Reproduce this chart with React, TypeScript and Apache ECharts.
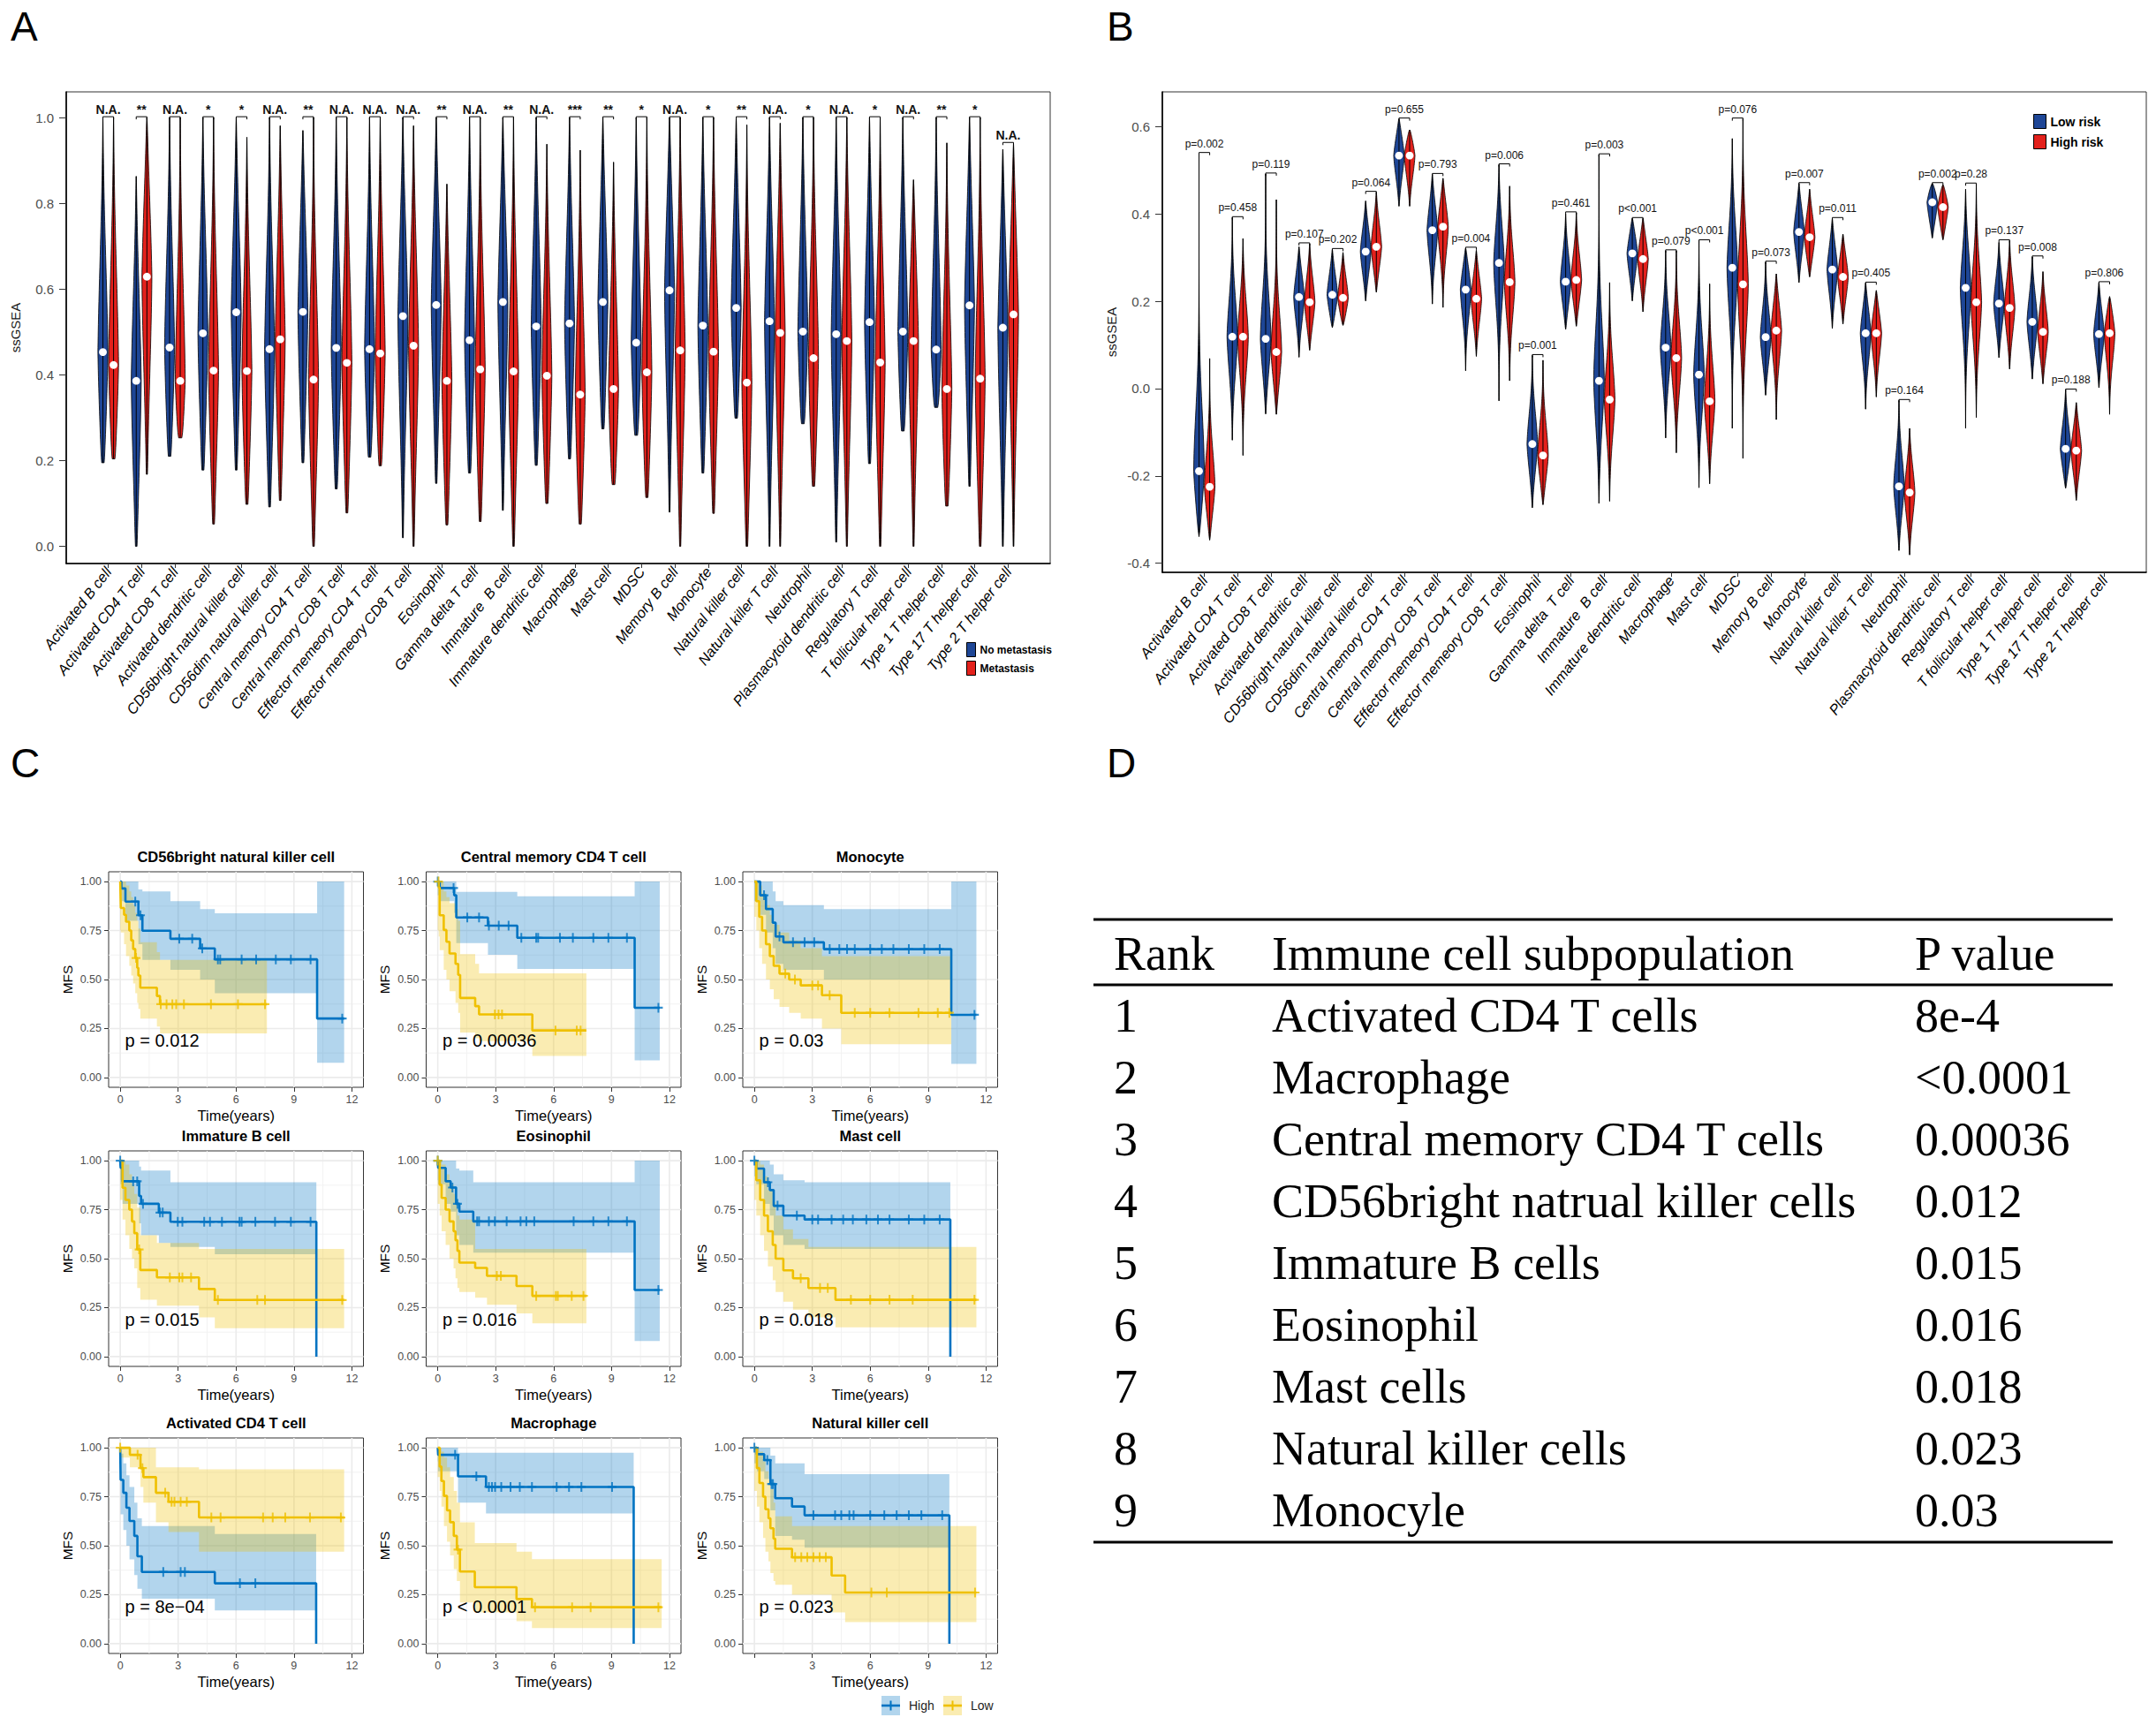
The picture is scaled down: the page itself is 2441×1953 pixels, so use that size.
import React, { useEffect, useRef } from "react";
import * as echarts from "echarts";

// ---------------- fonts / colours ----------------
const NARROW = '"Liberation Sans Narrow", "Liberation Sans", Arial, sans-serif';
const SANS = '"Liberation Sans", Arial, Helvetica, sans-serif';
const SERIF = '"Liberation Serif", "Times New Roman", serif';
const BLUE_V = "#1E4696";
const RED_V = "#E3211C";
const KM_BLUE = "#0073C2";
const KM_YELLOW = "#EFC000";
const KM_BLUE_BAND = "rgba(0,115,194,0.3)";
const KM_YELLOW_BAND = "rgba(239,192,0,0.3)";

// ---------------- Panel A / B data ----------------
const cellNamesA = [
  "Activated B cell", "Activated CD4 T cell", "Activated CD8 T cell", "Activated dendritic cell",
  "CD56bright natural killer cell", "CD56dim natural killer cell", "Central memory CD4 T cell",
  "Central memory CD8 T cell", "Effector memeory CD4 T cell", "Effector memeory CD8 T cell",
  "Eosinophil", "Gamma delta T cell", "Immature  B cell", "Immature dendritic cell", "Macrophage",
  "Mast cell", "MDSC", "Memory B cell", "Monocyte", "Natural killer cell", "Natural killer T cell",
  "Neutrophil", "Plasmacytoid dendritic cell", "Regulatory T cell", "T follicular helper cell",
  "Type 1 T helper cell", "Type 17 T helper cell", "Type 2 T helper cell",
];
const cellNamesB = [
  "Activated B cell", "Activated CD4 T cell", "Activated CD8 T cell", "Activated dendritic cell",
  "CD56bright natural killer cell", "CD56dim natural killer cell", "Central memory CD4 T cell",
  "Central memory CD8 T cell", "Effector memeory CD4 T cell", "Effector memeory CD8 T cell",
  "Eosinophil", "Gamma delta  T cell", "Immature  B cell", "Immature dendritic cell", "Macrophage",
  "Mast cell", "MDSC", "Memory B cell", "Monocyte", "Natural killer cell", "Natural killer T cell",
  "Neutrophil", "Plasmacytoid dendritic cell", "Regulatory T cell", "T follicular helper cell",
  "Type 1 T helper cell", "Type 17 T helper cell", "Type 2 T helper cell",
];
const sigA = ["N.A.", "**", "N.A.", "*", "*", "N.A.", "**", "N.A.", "N.A.", "N.A.", "**", "N.A.", "**", "N.A.",
  "***", "**", "*", "N.A.", "*", "**", "N.A.", "*", "N.A.", "*", "N.A.", "**", "*", "N.A."];
const aNoMetMin = [0.195, 0.0, 0.21, 0.178, 0.178, 0.092, 0.195, 0.134, 0.208, 0.02, 0.147, 0.171, 0.084, 0.189,
  0.204, 0.274, 0.259, 0.08, 0.171, 0.299, 0.0, 0.286, 0.01, 0.193, 0.269, 0.324, 0.14, 0.0];
const aNoMetMax = [1, 0.863, 1, 1, 1, 1, 0.97, 1, 1, 1, 1, 1, 1, 1, 1, 1, 1, 1, 1, 1, 1, 1, 1, 1, 1, 1, 1, 0.926];
const aNoMetMed = [0.453, 0.386, 0.464, 0.497, 0.546, 0.46, 0.547, 0.463, 0.46, 0.537, 0.563, 0.481, 0.57, 0.513,
  0.52, 0.57, 0.475, 0.597, 0.515, 0.556, 0.525, 0.501, 0.495, 0.523, 0.501, 0.459, 0.562, 0.51];
const aMetMin = [0.204, 0.168, 0.253, 0.052, 0.098, 0.107, 0.0, 0.078, 0.188, 0.0, 0.05, 0.058, 0.0, 0.1,
  0.052, 0.144, 0.114, 0.0, 0.077, 0.0, 0.0, 0.14, 0.0, 0.0, 0.0, 0.094, 0.0, 0.0];
const aMetMax = [1, 1, 1, 1, 0.954, 0.981, 1, 1, 1, 0.981, 0.845, 1, 1, 0.938, 0.924, 0.896, 1, 1, 1, 0.983, 0.987,
  1, 1, 1, 0.855, 0.941, 1, 0.94];
const aMetMed = [0.423, 0.629, 0.386, 0.41, 0.409, 0.483, 0.389, 0.428, 0.45, 0.468, 0.386, 0.413, 0.408, 0.398,
  0.354, 0.367, 0.406, 0.457, 0.454, 0.382, 0.498, 0.439, 0.479, 0.429, 0.479, 0.367, 0.391, 0.541];
const yTicksA = [0, 0.2, 0.4, 0.6, 0.8, 1.0];

const pvalB = ["p=0.002", "p=0.458", "p=0.119", "p=0.107", "p=0.202", "p=0.064", "p=0.655", "p=0.793", "p=0.004",
  "p=0.006", "p=0.001", "p=0.461", "p=0.003", "p<0.001", "p=0.079", "p<0.001", "p=0.076", "p=0.073", "p=0.007",
  "p=0.011", "p=0.405", "p=0.164", "p=0.002", "p=0.28", "p=0.137", "p=0.008", "p=0.188", "p=0.806"];
const bLowMin = [-0.339, -0.118, -0.058, 0.072, 0.14, 0.201, 0.418, 0.194, 0.041, -0.028, -0.273, 0.136, -0.263,
  0.201, -0.113, -0.227, -0.091, -0.015, 0.243, 0.138, -0.047, -0.371, 0.345, -0.091, 0.071, 0.022, -0.228, 0.002];
const bLowMax = [0.539, 0.392, 0.492, 0.325, 0.319, 0.43, 0.618, 0.491, 0.322, 0.513, 0.076, 0.4, 0.536, 0.39,
  0.316, 0.339, 0.573, 0.29, 0.47, 0.39, 0.242, -0.027, 0.47, 0.457, 0.335, 0.302, -0.003, 0.243];
const bLowMed = [-0.189, 0.119, 0.114, 0.21, 0.215, 0.314, 0.534, 0.363, 0.227, 0.288, -0.127, 0.245, 0.018, 0.31,
  0.094, 0.032, 0.277, 0.118, 0.359, 0.273, 0.127, -0.224, 0.427, 0.231, 0.195, 0.153, -0.138, 0.125];
const bHighMin = [-0.347, -0.153, -0.059, 0.088, 0.145, 0.221, 0.418, 0.186, 0.074, 0.018, -0.266, 0.143, -0.258,
  0.176, -0.147, -0.218, -0.16, -0.071, 0.256, 0.148, -0.019, -0.381, 0.341, -0.066, 0.045, 0.011, -0.256, -0.059];
const bHighMax = [0.069, 0.344, 0.433, 0.332, 0.312, 0.45, 0.593, 0.482, 0.317, 0.464, 0.065, 0.403, 0.243, 0.39,
  0.316, 0.24, 0.618, 0.263, 0.457, 0.354, 0.225, -0.091, 0.467, 0.469, 0.339, 0.268, -0.032, 0.211];
const bHighMed = [-0.225, 0.119, 0.084, 0.198, 0.208, 0.325, 0.534, 0.371, 0.206, 0.244, -0.153, 0.249, -0.025,
  0.297, 0.07, -0.029, 0.239, 0.133, 0.347, 0.256, 0.127, -0.238, 0.416, 0.198, 0.185, 0.13, -0.142, 0.127];
const yTicksB = [-0.4, -0.2, 0, 0.2, 0.4, 0.6];

// ---------------- Panel C data: [time, survival, lower CI, upper CI] ----------------
const kmTitles = ["CD56bright natural killer cell", "Central memory CD4 T cell", "Monocyte", "Immature B cell",
  "Eosinophil", "Mast cell", "Activated CD4 T cell", "Macrophage", "Natural killer cell"];
const kmPvals = ["p = 0.012", "p = 0.00036", "p = 0.03", "p = 0.015", "p = 0.016", "p = 0.018", "p = 8e\u221204",
  "p < 0.0001", "p = 0.023"];
const kmPvalPos = [0.25, 0.19];
const kmXTicks = [0, 3, 6, 9, 12];
const kmXTickLabels = ["0", "3", "6", "9", "12"];
const kmXTickLabelsNK = ["", "3", "6", "9", "12"];
const kmYTicks = [0, 0.25, 0.5, 0.75, 1];
const kmXMinor = [1.5, 4.5, 7.5, 10.5];
const kmYMinor = [0.125, 0.375, 0.625, 0.875];

const km1High = [[0, 1, 0.93, 1], [0.06, 0.965, 0.9, 1], [0.27, 0.898, 0.8, 1], [0.94, 0.828, 0.68, 0.96],
  [1.15, 0.749, 0.6, 0.95], [2.6, 0.708, 0.55, 0.9], [4.14, 0.659, 0.5, 0.86], [4.9, 0.603, 0.43, 0.838],
  [10.2, 0.301, 0.075, 1.0], [11.6, 0.301, 0.075, 1.0]];
const km1HighCens = [0.78, 1.05, 3.06, 3.73, 4.25, 5.06, 5.18, 6.29, 7.04, 8.06, 8.84, 9.86, 11.5];
const km1Low = [[0, 1, 0.75, 1], [0.03, 0.865, 0.74, 1], [0.2, 0.83, 0.68, 1], [0.3, 0.795, 0.62, 0.98],
  [0.47, 0.75, 0.57, 0.95], [0.57, 0.7, 0.52, 0.92], [0.67, 0.656, 0.48, 0.88], [0.78, 0.61, 0.43, 0.84],
  [0.88, 0.56, 0.38, 0.8], [0.94, 0.52, 0.35, 0.76], [1.04, 0.458, 0.3, 0.69], [1.9, 0.416, 0.26, 0.64],
  [2.06, 0.374, 0.225, 0.6], [7.6, 0.374, 0.225, 0.6]];
const km1LowCens = [0.82, 2.1, 2.4, 2.7, 2.9, 3.3, 4.7, 6.1, 7.5];

const km2High = [[0, 1, 0.93, 1], [0.1, 0.967, 0.9, 1], [0.85, 0.93, 0.84, 1], [0.96, 0.817, 0.686, 0.948],
  [2.6, 0.775, 0.626, 0.948], [4.12, 0.713, 0.554, 0.925], [10.2, 0.356, 0.087, 1.0], [11.5, 0.356, 0.087, 1.0]];
const km2HighCens = [0, 0.82, 1.53, 2.14, 2.65, 3.16, 3.67, 4.33, 5.1, 5.2, 6.33, 7.0, 8.06, 8.84, 9.8, 11.43];
const km2Low = [[0, 1, 0.75, 1], [0.05, 0.97, 0.72, 1], [0.1, 0.828, 0.65, 1], [0.31, 0.753, 0.55, 0.95],
  [0.45, 0.693, 0.5, 0.92], [0.61, 0.633, 0.44, 0.89], [0.92, 0.58, 0.38, 0.86], [1.06, 0.524, 0.33, 0.8],
  [1.16, 0.406, 0.23, 0.63], [1.94, 0.364, 0.2, 0.58], [2.14, 0.322, 0.185, 0.531], [4.9, 0.24, 0.11, 0.531],
  [7.7, 0.24, 0.11, 0.531]];
const km2LowCens = [0.04, 2.96, 3.15, 3.33, 6.1, 7.2, 7.4];

const km3High = [[0, 1, 0.9, 1], [0.3, 0.93, 0.83, 1], [0.6, 0.86, 0.74, 1], [0.95, 0.79, 0.66, 0.95],
  [1.1, 0.72, 0.58, 0.9], [1.5, 0.69, 0.55, 0.88], [3.6, 0.655, 0.5, 0.86], [10.2, 0.32, 0.07, 1.0],
  [11.5, 0.32, 0.07, 1.0]];
const km3HighCens = [0.5, 1.3, 2.0, 2.6, 3.1, 3.9, 4.4, 4.8, 5.2, 6.0, 6.6, 7.2, 8.0, 8.8, 9.6, 11.4];
const km3Low = [[0, 1, 0.82, 1], [0.1, 0.9, 0.75, 1], [0.25, 0.82, 0.66, 0.98], [0.4, 0.75, 0.58, 0.94],
  [0.6, 0.68, 0.5, 0.88], [0.8, 0.62, 0.45, 0.83], [1.0, 0.57, 0.4, 0.78], [1.3, 0.53, 0.36, 0.74],
  [1.8, 0.5, 0.33, 0.7], [2.4, 0.47, 0.3, 0.66], [3.5, 0.42, 0.25, 0.62], [4.5, 0.33, 0.17, 0.62],
  [10.2, 0.33, 0.17, 0.62]];
const km3LowCens = [1.6, 2.1, 3.0, 3.3, 3.9, 5.2, 6.0, 7.0, 8.5, 9.5, 10.1];

const km4High = [[0, 1, 0.9, 1], [0.02, 0.963, 0.88, 1], [0.12, 0.895, 0.78, 1], [0.98, 0.82, 0.68, 0.97],
  [1.08, 0.78, 0.62, 0.95], [2.0, 0.735, 0.58, 0.95], [2.6, 0.688, 0.56, 0.89], [4.9, 0.688, 0.523, 0.89],
  [10.16, 0, 0, 0]];
const km4HighCens = [0, 0.67, 0.88, 1.18, 2.06, 2.2, 2.98, 3.22, 4.35, 4.65, 5.27, 6.18, 6.29, 7.0, 8.02, 8.84, 9.86];
const km4Low = [[0, 1, 0.8, 1], [0.12, 0.862, 0.7, 1], [0.27, 0.8, 0.62, 0.98], [0.47, 0.75, 0.55, 0.93],
  [0.61, 0.69, 0.5, 0.88], [0.73, 0.63, 0.45, 0.83], [0.88, 0.547, 0.35, 0.76], [1.04, 0.442, 0.29, 0.62],
  [1.9, 0.404, 0.26, 0.58], [4.08, 0.345, 0.2, 0.55], [4.9, 0.289, 0.145, 0.55], [11.6, 0.289, 0.145, 0.55]];
const km4LowCens = [0.98, 2.57, 3.06, 3.22, 3.67, 5.06, 7.1, 7.5, 11.5];

const km5High = [[0, 1, 0.9, 1], [0.02, 0.963, 0.88, 1], [0.41, 0.895, 0.78, 1], [0.67, 0.863, 0.74, 1],
  [0.95, 0.78, 0.62, 0.96], [1.12, 0.74, 0.57, 0.95], [1.84, 0.69, 0.53, 0.89], [10.2, 0.34, 0.08, 1.0],
  [11.5, 0.34, 0.08, 1.0]];
const km5HighCens = [0, 0.76, 1.02, 2.04, 2.14, 2.65, 2.96, 3.57, 4.29, 4.59, 5.0, 7.04, 8.06, 8.84, 9.8, 11.43];
const km5Low = [[0, 1, 0.78, 1], [0.1, 0.877, 0.72, 1], [0.2, 0.81, 0.64, 0.98], [0.41, 0.75, 0.57, 0.93],
  [0.61, 0.69, 0.5, 0.88], [0.82, 0.64, 0.45, 0.83], [0.92, 0.594, 0.4, 0.78], [1.02, 0.54, 0.35, 0.72],
  [1.12, 0.48, 0.33, 0.7], [1.94, 0.453, 0.3, 0.55], [2.55, 0.412, 0.265, 0.55], [4.08, 0.36, 0.22, 0.55],
  [4.9, 0.31, 0.17, 0.55], [7.7, 0.31, 0.17, 0.55]];
const km5LowCens = [0, 3.06, 3.27, 5.1, 6.12, 6.22, 6.94, 7.55];

const km6High = [[0, 1, 0.92, 1], [0.1, 0.96, 0.88, 1], [0.5, 0.89, 0.78, 1], [0.8, 0.85, 0.72, 0.98],
  [1.0, 0.77, 0.62, 0.93], [1.5, 0.72, 0.57, 0.9], [2.6, 0.7, 0.55, 0.89], [10.15, 0, 0, 0]];
const km6HighCens = [0, 0.7, 1.2, 2.2, 3.0, 3.3, 4.0, 4.6, 5.1, 5.8, 6.4, 7.0, 8.0, 8.8, 9.6];
const km6Low = [[0, 1, 0.8, 1], [0.1, 0.9, 0.72, 1], [0.3, 0.8, 0.62, 0.98], [0.5, 0.72, 0.54, 0.92],
  [0.7, 0.64, 0.46, 0.85], [0.95, 0.57, 0.39, 0.79], [1.1, 0.5, 0.33, 0.72], [1.5, 0.44, 0.28, 0.65],
  [2.0, 0.4, 0.24, 0.6], [2.8, 0.35, 0.2, 0.56], [4.2, 0.29, 0.15, 0.56], [11.5, 0.29, 0.15, 0.56]];
const km6LowCens = [2.4, 3.4, 3.8, 5.0, 6.0, 7.0, 8.2, 11.4];

const km7High = [[0, 1, 0.9, 1], [0.02, 0.836, 0.66, 0.97], [0.16, 0.77, 0.58, 0.92], [0.32, 0.694, 0.5, 0.86],
  [0.48, 0.626, 0.43, 0.8], [0.73, 0.55, 0.35, 0.72], [0.89, 0.446, 0.28, 0.64], [1.12, 0.366, 0.23, 0.6],
  [4.9, 0.308, 0.17, 0.56], [10.15, 0, 0, 0]];
const km7HighCens = [2.23, 3.13, 3.35, 6.2, 7.0];
const km7Low = [[0, 1, 0.95, 1], [0.5, 0.964, 0.9, 1], [1.05, 0.896, 0.8, 1], [1.2, 0.85, 0.72, 1],
  [1.85, 0.77, 0.62, 0.9], [2.5, 0.724, 0.57, 0.9], [4.08, 0.644, 0.47, 0.89], [11.6, 0.644, 0.47, 0.89]];
const km7LowCens = [0, 0.9, 1.15, 2.33, 2.66, 2.81, 3.13, 3.45, 4.72, 5.2, 7.4, 7.9, 8.55, 9.83, 11.43];

const km8High = [[0, 1, 0.93, 1], [0.02, 0.964, 0.88, 1], [1.05, 0.854, 0.72, 0.975], [2.5, 0.8, 0.665, 0.975],
  [10.15, 0, 0, 0]];
const km8HighCens = [0.9, 2.0, 2.65, 2.81, 2.97, 3.29, 3.77, 4.25, 4.88, 6.16, 6.8, 7.44, 9.03];
const km8Low = [[0, 1, 0.85, 1], [0.1, 0.904, 0.78, 1], [0.19, 0.83, 0.7, 0.98], [0.32, 0.754, 0.6, 0.95],
  [0.48, 0.68, 0.52, 0.9], [0.64, 0.62, 0.45, 0.85], [0.83, 0.55, 0.38, 0.78], [0.99, 0.48, 0.32, 0.72],
  [1.15, 0.368, 0.21, 0.62], [1.92, 0.288, 0.16, 0.513], [4.08, 0.228, 0.115, 0.47], [4.88, 0.186, 0.08, 0.431],
  [11.6, 0.186, 0.08, 0.431]];
const km8LowCens = [1.05, 5.04, 6.96, 7.92, 11.43];

const km9High = [[0, 1, 0.92, 1], [0.13, 0.967, 0.88, 1], [0.51, 0.937, 0.84, 1], [0.83, 0.815, 0.68, 0.96],
  [1.08, 0.742, 0.55, 0.92], [1.95, 0.7, 0.53, 0.92], [2.6, 0.655, 0.49, 0.865], [10.1, 0, 0, 0]];
const km9HighCens = [0, 0.67, 0.89, 0.96, 3.06, 4.18, 4.5, 4.92, 5.14, 6.0, 6.73, 7.37, 8.0, 8.65, 9.73];
const km9Low = [[0, 1, 0.78, 1], [0.13, 0.896, 0.7, 1], [0.26, 0.82, 0.62, 0.98], [0.45, 0.75, 0.54, 0.93],
  [0.57, 0.686, 0.47, 0.88], [0.73, 0.64, 0.42, 0.84], [0.83, 0.589, 0.36, 0.79], [0.99, 0.536, 0.32, 0.72],
  [1.08, 0.484, 0.3, 0.65], [1.95, 0.441, 0.25, 0.6], [4.0, 0.348, 0.16, 0.6], [4.7, 0.261, 0.11, 0.6],
  [11.5, 0.261, 0.11, 0.6]];
const km9LowCens = [2.11, 2.43, 2.74, 3.06, 3.38, 3.7, 6.06, 6.86, 11.43];

const kmHighAll = [km1High, km2High, km3High, km4High, km5High, km6High, km7High, km8High, km9High];
const kmHighCensAll = [km1HighCens, km2HighCens, km3HighCens, km4HighCens, km5HighCens, km6HighCens, km7HighCens,
  km8HighCens, km9HighCens];
const kmLowAll = [km1Low, km2Low, km3Low, km4Low, km5Low, km6Low, km7Low, km8Low, km9Low];
const kmLowCensAll = [km1LowCens, km2LowCens, km3LowCens, km4LowCens, km5LowCens, km6LowCens, km7LowCens,
  km8LowCens, km9LowCens];

// ---------------- Panel D table ----------------
const tableHeader = ["Rank", "Immune cell subpopulation", "P value"];
const tableRanks = ["1", "2", "3", "4", "5", "6", "7", "8", "9"];
const tableCells = ["Activated CD4 T cells", "Macrophage", "Central memory CD4 T cells",
  "CD56bright natrual killer cells", "Immature B cells", "Eosinophil", "Mast cells", "Natural killer cells",
  "Monocyle"];
const tablePvals = ["8e-4", "<0.0001", "0.00036", "0.012", "0.015", "0.016", "0.018", "0.023", "0.03"];

// ---------------- layout ----------------
const gridA = { left: 75, top: 104, width: 1114, height: 534 };
const gridB = { left: 1316, top: 104, width: 1114, height: 544 };
const kmCols = [123, 482.5, 841];
const kmRows = [987, 1303, 1628];
const kmW = 288.5;
const kmH = 244;
const VOFF = 0.16;

function violinProfile(lo: number, hi: number, med: number, sigma: number, bottomFloor: number) {
  const n = 60;
  const pts: number[][] = [];
  const ys: number[] = [];
  for (let k = 0; k <= n; k++) ys.push(lo + ((hi - lo) * k) / n);
  ys.push(med);
  ys.sort((a, b) => a - b);
  for (const y of ys) {
    let w;
    if (y <= med) {
      const L = Math.max(med - lo, 1e-6);
      const t = Math.min(1, Math.max(0, (y - lo) / L));
      const d = med - y;
      w = Math.exp(-0.5 * (d / sigma) ** 2) * (bottomFloor + (1 - bottomFloor) * Math.pow(t, 0.6));
    } else {
      const L = Math.max(hi - med, 1e-6);
      const t = Math.min(1, Math.max(0, (hi - y) / L));
      const d = y - med;
      w = Math.exp(-0.5 * (d / sigma) ** 2) * Math.pow(t, 0.6);
    }
    pts.push([y, w]);
  }
  return pts;
}

function survAt(steps: number[][], t: number) {
  let s = steps[0][1];
  for (const r of steps) if (r[0] <= t + 1e-9) s = r[1];
  return s;
}

function violinSeries(name: string, color: string, axis: number, mins: number[], maxs: number[], meds: number[],
  offset: number, halfW: number, sigBase: number, sigSlope: number, bottomFloor: number) {
  return {
    type: "custom", name, xAxisIndex: axis, yAxisIndex: axis, z: 3,
    itemStyle: { color, borderColor: "#000", borderWidth: 1 },
    data: mins.map((m, i) => [i, m, maxs[i], meds[i]]),
    encode: { x: 0, y: [1, 2, 3] },
    renderItem: (params: any, api: any) => {
      const i = api.value(0), lo = api.value(1), hi = api.value(2), med = api.value(3);
      const xc = i + offset;
      const unit = api.size([1, 0])[0];
      const hw = halfW * unit;
      const prof = violinProfile(lo, hi, med, sigBase + sigSlope * (hi - lo), bottomFloor);
      const right = prof.map(([y, w]) => { const p = api.coord([xc, y]); return [p[0] + w * hw, p[1]]; });
      const left = prof.slice().reverse().map(([y, w]) => { const p = api.coord([xc, y]); return [p[0] - w * hw, p[1]]; });
      const top = api.coord([xc, hi]), bot = api.coord([xc, lo]), m = api.coord([xc, med]);
      return {
        type: "group",
        children: [
          { type: "polygon", shape: { points: right.concat(left) }, style: { fill: color, stroke: "#000", lineWidth: 0.8 } },
          { type: "line", shape: { x1: top[0], y1: top[1], x2: bot[0], y2: bot[1] }, style: { stroke: "#000", lineWidth: 1 } },
          { type: "circle", shape: { cx: m[0], cy: m[1], r: 4.4 }, style: { fill: "#fff" } },
        ],
      };
    },
  };
}

function bracketSeries(axis: number, labels: string[], maxA: number[], maxB: number[], font: any, gap: number) {
  return {
    type: "custom", xAxisIndex: axis, yAxisIndex: axis, z: 6, silent: true,
    data: labels.map((_, i) => [i, Math.max(maxA[i], maxB[i])]),
    renderItem: (params: any, api: any) => {
      const i = api.value(0), top = api.value(1);
      const l = api.coord([i - VOFF, top]), r = api.coord([i + VOFF, top]);
      const yb = l[1] - 1;
      return {
        type: "group",
        children: [
          { type: "polyline", shape: { points: [[l[0], yb + 3], [l[0], yb], [r[0], yb], [r[0], yb + 3]] }, style: { stroke: "#000", lineWidth: 1, fill: null } },
          { type: "text", style: { text: labels[params.dataIndex], x: (l[0] + r[0]) / 2, y: yb - gap, align: "center", verticalAlign: "bottom", fill: "#111", ...font } },
        ],
      };
    },
  };
}

function violinXAxis(gridIndex: number, names: string[]) {
  const idx = names.map((_, i) => i);
  return {
    type: "value", gridIndex, min: -1.26, max: 28.26,
    axisLine: { onZero: false, lineStyle: { color: "#000", width: 1.6 } },
    axisTick: { customValues: idx, length: 5, lineStyle: { color: "#333", width: 1 } },
    axisLabel: {
      customValues: idx, rotate: 52, margin: 6, formatter: (v: number) => names[Math.round(v)] ?? "",
      fontFamily: SANS, fontStyle: "italic", fontSize: 16.5, color: "#000",
    },
    splitLine: { show: false },
  };
}

function violinYAxis(gridIndex: number, min: number, max: number, ticks: number[]) {
  return {
    type: "value", gridIndex, min, max,
    axisLine: { show: true, onZero: false, lineStyle: { color: "#000", width: 1.6 } },
    axisTick: { show: true, customValues: ticks, length: 8, lineStyle: { color: "#333", width: 1 } },
    axisLabel: { customValues: ticks, formatter: (v: number) => v.toFixed(1), fontFamily: SANS, fontSize: 15, color: "#4D4D4D", margin: 14 },
    splitLine: { show: false },
    name: "ssGSEA", nameLocation: "middle", nameGap: 50,
    nameTextStyle: { fontFamily: SANS, fontSize: 15, color: "#1a1a1a" },
  };
}

function buildOption() {
  const grids: any[] = [
    { ...gridA, show: true, borderColor: "#333", borderWidth: 1 },
    { ...gridB, show: true, borderColor: "#333", borderWidth: 1 },
  ];
  const xAxes: any[] = [violinXAxis(0, cellNamesA), violinXAxis(1, cellNamesB)];
  const yAxes: any[] = [violinYAxis(0, -0.04, 1.06, yTicksA), violinYAxis(1, -0.421, 0.68, yTicksB)];
  const series: any[] = [
    violinSeries("No metastasis", BLUE_V, 0, aNoMetMin, aNoMetMax, aNoMetMed, -VOFF, 0.15, 0.3, 0, 0.35),
    violinSeries("Metastasis", RED_V, 0, aMetMin, aMetMax, aMetMed, VOFF, 0.15, 0.3, 0, 0.35),
    bracketSeries(0, sigA, aNoMetMax, aMetMax, { fontFamily: NARROW, fontSize: 14, fontWeight: "bold" }, 1),
    violinSeries("Low risk", BLUE_V, 1, bLowMin, bLowMax, bLowMed, -VOFF, 0.16, 0.05, 0.12, 0),
    violinSeries("High risk", RED_V, 1, bHighMin, bHighMax, bHighMed, VOFF, 0.16, 0.05, 0.12, 0),
    bracketSeries(1, pvalB, bLowMax, bHighMax, { fontFamily: SANS, fontSize: 12 }, 4),
  ];
  const graphics: any[] = [];

  // panel letters
  [["A", 12, 30], ["B", 1253, 30], ["C", 12, 864], ["D", 1253, 864]].forEach(([t, x, y]) => {
    graphics.push({ type: "text", x, y, style: { text: t, fontFamily: SANS, fontSize: 46, fill: "#000", verticalAlign: "middle", align: "left" } });
  });

  // KM panels
  for (let p = 0; p < 9; p++) {
    const gi = p + 2;
    const row = Math.floor(p / 3), col = p % 3;
    const left = kmCols[col], top = kmRows[row];
    grids.push({ left, top, width: kmW, height: kmH, show: true, borderColor: "#333", borderWidth: 1 });
    const xLabels = p === 8 ? kmXTickLabelsNK : kmXTickLabels;
    xAxes.push({
      type: "value", gridIndex: gi, min: -0.6, max: 12.6,
      axisLine: { show: false, onZero: false }, splitLine: { show: false },
      axisTick: { show: true, customValues: kmXTicks, length: 5, lineStyle: { color: "#333" } },
      axisLabel: {
        customValues: kmXTicks, formatter: (v: number) => xLabels[kmXTicks.indexOf(v)] ?? "",
        fontFamily: SANS, fontSize: 12.5, color: "#4D4D4D", margin: 7,
      },
      name: "Time(years)", nameLocation: "middle", nameGap: 23,
      nameTextStyle: { fontFamily: SANS, fontSize: 16.5, color: "#000" },
    });
    yAxes.push({
      type: "value", gridIndex: gi, min: -0.05, max: 1.05,
      axisLine: { show: false, onZero: false }, splitLine: { show: false },
      axisTick: { show: true, customValues: kmYTicks, length: 5, lineStyle: { color: "#333" } },
      axisLabel: { customValues: kmYTicks, formatter: (v: number) => v.toFixed(2), fontFamily: SANS, fontSize: 12.5, color: "#4D4D4D", margin: 8 },
      name: "MFS", nameLocation: "middle", nameGap: 39,
      nameTextStyle: { fontFamily: SANS, fontSize: 15.5, color: "#000" },
    });
    // grid lines
    series.push({
      type: "custom", xAxisIndex: gi, yAxisIndex: gi, silent: true, z: 1, data: [[0, 0]],
      renderItem: (params: any, api: any) => {
        const cs = params.coordSys;
        const ch: any[] = [];
        const vx = (v: number, w: number, c: string) => { const q = api.coord([v, 0]); ch.push({ type: "line", shape: { x1: q[0], y1: cs.y, x2: q[0], y2: cs.y + cs.height }, style: { stroke: c, lineWidth: w } }); };
        const hy = (v: number, w: number, c: string) => { const q = api.coord([0, v]); ch.push({ type: "line", shape: { x1: cs.x, y1: q[1], x2: cs.x + cs.width, y2: q[1] }, style: { stroke: c, lineWidth: w } }); };
        kmXMinor.forEach((v) => vx(v, 1, "#F2F2F2"));
        kmYMinor.forEach((v) => hy(v, 1, "#F2F2F2"));
        kmXTicks.forEach((v) => vx(v, 1.6, "#EBEBEB"));
        kmYTicks.forEach((v) => hy(v, 1.6, "#EBEBEB"));
        return { type: "group", children: ch };
      },
    });
    const groups = [
      { steps: kmHighAll[p], cens: kmHighCensAll[p], color: KM_BLUE, band: KM_BLUE_BAND, name: "High" },
      { steps: kmLowAll[p], cens: kmLowCensAll[p], color: KM_YELLOW, band: KM_YELLOW_BAND, name: "Low" },
    ];
    groups.forEach((g) => {
      const steps = g.steps;
      series.push({
        type: "custom", xAxisIndex: gi, yAxisIndex: gi, silent: true, z: 2, data: [[steps[0][0], steps[0][1]]],
        renderItem: (params: any, api: any) => {
          const up: number[][] = [], dn: number[][] = [];
          for (let k = 0; k < steps.length - 1; k++) {
            const t0 = steps[k][0], t1 = steps[k + 1][0];
            up.push(api.coord([t0, steps[k][3]]), api.coord([t1, steps[k][3]]));
            dn.push(api.coord([t0, steps[k][2]]), api.coord([t1, steps[k][2]]));
          }
          return { type: "polygon", shape: { points: up.concat(dn.reverse()) }, style: { fill: g.band } };
        },
      });
    });
    groups.forEach((g) => {
      series.push({
        type: "line", name: g.name, xAxisIndex: gi, yAxisIndex: gi, z: 4, step: "end", showSymbol: false, silent: true,
        data: g.steps.map((r) => [r[0], r[1]]), lineStyle: { color: g.color, width: 2.6 }, itemStyle: { color: g.color },
      });
      series.push({
        type: "scatter", xAxisIndex: gi, yAxisIndex: gi, z: 5, silent: true,
        symbol: "path://M4 0H6V4H10V6H6V10H4V6H0V4H4Z", symbolSize: [10, 11],
        data: g.cens.map((t) => [t, survAt(g.steps, t)]), itemStyle: { color: g.color },
      });
    });
    // p value
    series.push({
      type: "custom", xAxisIndex: gi, yAxisIndex: gi, silent: true, z: 6, data: [kmPvalPos],
      renderItem: (params: any, api: any) => {
        const q = api.coord([api.value(0), api.value(1)]);
        return { type: "text", style: { text: kmPvals[p], x: q[0], y: q[1], align: "left", verticalAlign: "middle", fontFamily: SANS, fontSize: 20, fill: "#000" } };
      },
    });
    // title
    graphics.push({ type: "text", x: left + kmW / 2, y: top - 17, style: { text: kmTitles[p], align: "center", verticalAlign: "middle", fontFamily: SANS, fontWeight: "bold", fontSize: 16.5, fill: "#000" } });
  }

  // KM legend
  const legKey = (x: number, col: string, band: string, label: string) => [
    { type: "rect", shape: { x, y: 1920, width: 21, height: 22 }, style: { fill: band } },
    { type: "line", shape: { x1: x, y1: 1931, x2: x + 21, y2: 1931 }, style: { stroke: col, lineWidth: 2.6 } },
    { type: "line", shape: { x1: x + 10.5, y1: 1925.5, x2: x + 10.5, y2: 1936.5 }, style: { stroke: col, lineWidth: 2 } },
    { type: "text", x: x + 31, y: 1931, style: { text: label, fontFamily: SANS, fontSize: 14, fill: "#222", verticalAlign: "middle", align: "left" } },
  ];
  graphics.push(...legKey(998, KM_BLUE, KM_BLUE_BAND, "High"), ...legKey(1068, KM_YELLOW, KM_YELLOW_BAND, "Low"));

  // Table D
  const tX = [1261, 1440, 2168];
  const ruleX0 = 1238, ruleX1 = 2392;
  [1041, 1115, 1746].forEach((y) => graphics.push({ type: "line", shape: { x1: ruleX0, y1: y, x2: ruleX1, y2: y }, style: { stroke: "#000", lineWidth: 3 } }));
  const tFont = { fontFamily: SERIF, fontSize: 54, fill: "#000", verticalAlign: "middle", align: "left" };
  tableHeader.forEach((h, c) => graphics.push({ type: "text", x: tX[c], y: 1080, style: { text: h, ...tFont } }));
  tableRanks.forEach((r, k) => {
    const y = 1150 + 70 * k;
    graphics.push({ type: "text", x: tX[0], y, style: { text: r, ...tFont } });
    graphics.push({ type: "text", x: tX[1], y, style: { text: tableCells[k], ...tFont } });
    graphics.push({ type: "text", x: tX[2], y, style: { text: tablePvals[k], ...tFont } });
  });

  return {
    animation: false,
    backgroundColor: "#fff",
    grid: grids,
    xAxis: xAxes,
    yAxis: yAxes,
    legend: [
      {
        data: ["No metastasis", "Metastasis"], left: 1094, top: 727, orient: "vertical", icon: "rect",
        itemWidth: 10, itemHeight: 16, itemGap: 4, padding: 0, selectedMode: false,
        itemStyle: { borderColor: "#000", borderWidth: 1 },
        textStyle: { fontFamily: NARROW, fontWeight: "bold", fontSize: 12, color: "#000" },
      },
      {
        data: ["Low risk", "High risk"], left: 2302, top: 129, orient: "vertical", icon: "rect",
        itemWidth: 14, itemHeight: 16, itemGap: 6, padding: 0, selectedMode: false,
        itemStyle: { borderColor: "#000", borderWidth: 1 },
        textStyle: { fontFamily: NARROW, fontWeight: "bold", fontSize: 14, color: "#000" },
      },
    ],
    series,
    graphic: graphics,
  };
}

export default function App() {
  const ref = useRef<HTMLDivElement>(null);
  useEffect(() => {
    const chart = echarts.init(ref.current as HTMLDivElement, null, { renderer: "svg", width: 2441, height: 1953 });
    chart.setOption(buildOption() as any);
    return () => chart.dispose();
  }, []);
  return <div ref={ref} style={{ position: "absolute", left: 0, top: 0, width: 2441, height: 1953, background: "#fff" }} />;
}
